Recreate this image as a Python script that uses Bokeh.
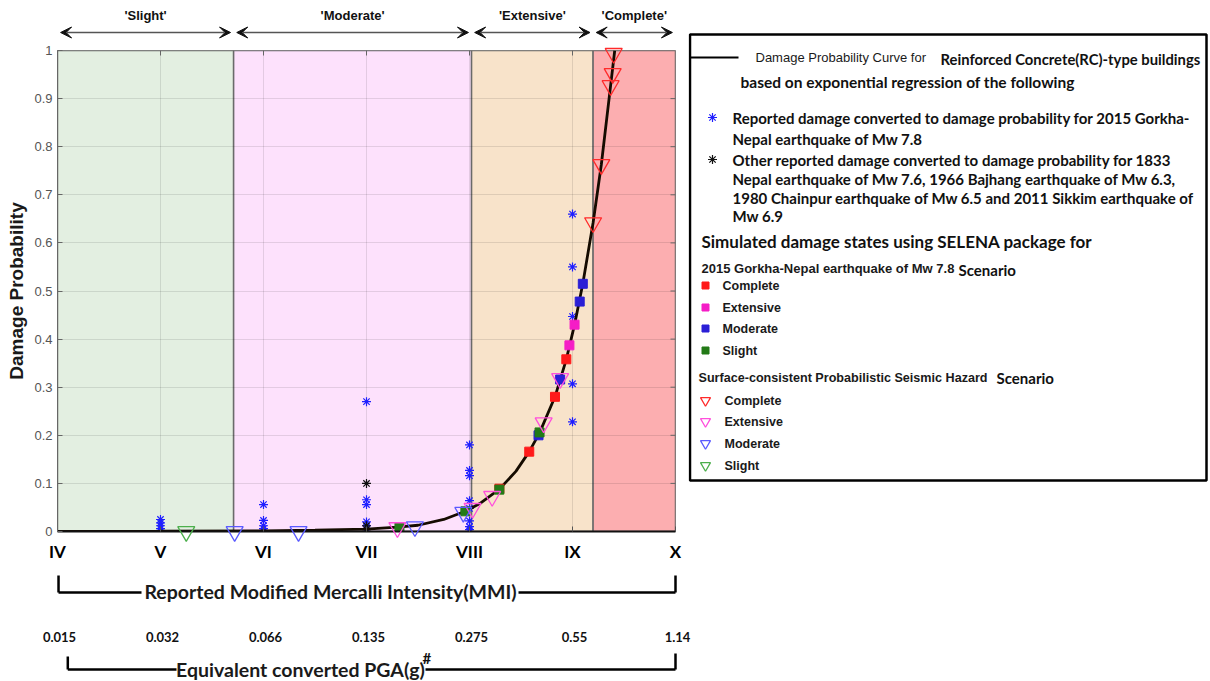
from bokeh.plotting import figure
from bokeh.layouts import row, column
from bokeh.models import Range1d, FixedTicker, Arrow, VeeHead, ColumnDataSource
from bokeh.core.properties import value
from bokeh.embed import file_html
from bokeh.resources import INLINE

# ---------------------------------------------------------------- data
# damage-state bands along the intensity axis
band_names = ["Slight", "Moderate", "Extensive", "Complete"]
band_start = [4.0, 5.71, 8.02, 9.20]
band_end = [5.71, 8.02, 9.20, 10.0]
band_colors = ["#e3efe1", "#fde1fc", "#f8e3ca", "#fcaeb0"]

# intensity axis and the equivalent PGA values
mmi_ticks = [4, 5, 6, 7, 8, 9, 10]
mmi_labels = ["IV", "V", "VI", "VII", "VIII", "IX", "X"]
pga_labels = ["0.015", "0.032", "0.066", "0.135", "0.275", "0.55", "1.14"]
prob_ticks = [0, 0.1, 0.2, 0.3, 0.4, 0.5, 0.6, 0.7, 0.8, 0.9, 1]

# exponential-regression damage probability curve (RC buildings)
curve_mmi = [4.0, 5.0, 6.0, 6.5, 7.0, 7.3, 7.5, 7.75, 7.96, 8.1, 8.29, 8.45,
             8.58, 8.68, 8.83, 8.94, 9.02, 9.10, 9.20, 9.28, 9.37, 9.41]
curve_prob = [0.0, 0.0005, 0.0015, 0.003, 0.005, 0.009, 0.013, 0.025, 0.042, 0.058, 0.088, 0.125,
              0.166, 0.205, 0.28, 0.358, 0.43, 0.515, 0.642, 0.763, 0.927, 1.0]

# reported damage, 2015 Gorkha-Nepal earthquake
gorkha_mmi = [5, 5, 5, 5, 5,
              6, 6, 6, 6, 6,
              7, 7, 7, 7, 7, 7, 7,
              8, 8, 8, 8, 8, 8, 8, 8, 8,
              9, 9, 9, 9, 9]
gorkha_prob = [0.025, 0.018, 0.012, 0.006, 0.0,
               0.056, 0.023, 0.012, 0.006, 0.0,
               0.27, 0.066, 0.056, 0.02, 0.012, 0.006, 0.0,
               0.18, 0.127, 0.116, 0.064, 0.048, 0.022, 0.01, 0.004, 0.0,
               0.66, 0.55, 0.447, 0.307, 0.228]

# other reported damage (1833, 1966, 1980, 2011 events)
other_mmi = [7, 7, 7]
other_prob = [0.1, 0.012, 0.004]

# SELENA simulated damage states, 2015 Gorkha scenario
selena_complete_mmi = [8.94, 8.83, 8.58, 8.29]
selena_complete_prob = [0.358, 0.28, 0.166, 0.089]
selena_extensive_mmi = [9.02, 8.97]
selena_extensive_prob = [0.43, 0.387]
selena_moderate_mmi = [9.10, 9.07, 8.88, 8.67]
selena_moderate_prob = [0.515, 0.478, 0.316, 0.200]
selena_slight_mmi = [8.68, 8.29, 7.96, 7.32]
selena_slight_prob = [0.206, 0.087, 0.042, 0.009]

# surface-consistent probabilistic seismic hazard scenario
psha_complete_mmi = [9.40, 9.39, 9.37, 9.28, 9.20]
psha_complete_prob = [0.994, 0.952, 0.927, 0.763, 0.642]
psha_extensive_mmi = [8.88, 8.72, 8.22, 8.03, 7.30]
psha_extensive_prob = [0.318, 0.226, 0.073, 0.048, 0.008]
psha_moderate_mmi = [7.47, 7.94, 5.72, 6.34]
psha_moderate_prob = [0.01, 0.040, 0.0, 0.0]
psha_slight_mmi = [5.25]
psha_slight_prob = [0.0]

# ---------------------------------------------------------------- layout constants
W, H = 1210, 681
LEFT_W = 688
RIGHT_W = W - LEFT_W
FL, FR = 57, 675                 # plot frame, horizontal page pixels
TOP_H, MID_H = 42, 533           # strip above the plot / main plot height
FT_PAD, FRAME_H = 8, 481
X0, X1 = 4.0, 10.0
MMI_PER_PX = (X1 - X0) / (FR - FL)


def mmi_at(px):
    return X0 + (px - FL) * MMI_PER_PX


def add_text(fig, x, y, s, font="Lato", size="14px", bold=True, color="#111111", align="left"):
    fig.text(x=[x], y=[y], text=[s], text_font=value(font), text_font_size=size,
             text_font_style="bold" if bold else "normal", text_color=color,
             text_align=align, text_baseline="middle")


def strip(width, y_top, y_bottom):
    f = figure(width=width, height=y_bottom - y_top, x_range=Range1d(mmi_at(0), mmi_at(width)),
               y_range=Range1d(y_bottom, y_top), output_backend="svg", toolbar_location=None,
               min_border=0, x_axis_type=None, y_axis_type=None, frame_align=False)
    f.outline_line_color = None
    f.grid.visible = False
    return f


# ---------------------------------------------------------------- strip above: damage-state ranges
top = strip(LEFT_W, 0, TOP_H)
inset = 0.03
for name, s, e in zip(band_names, band_start, band_end):
    top.add_layout(Arrow(x_start=s + inset, x_end=e - inset, y_start=32, y_end=32,
                         start=VeeHead(size=11, fill_color="#111111", line_color="#111111"),
                         end=VeeHead(size=11, fill_color="#111111", line_color="#111111"),
                         line_color="#555555", line_width=1.6))
    add_text(top, (s + e) / 2, 15, "'" + name + "'", font="Liberation Sans", size="13px",
             align="center")

# ---------------------------------------------------------------- main plot
p = figure(width=LEFT_W, height=MID_H, x_range=Range1d(X0, X1), y_range=Range1d(0, 1),
           output_backend="svg", toolbar_location=None, frame_align=False,
           min_border_left=FL, min_border_right=LEFT_W - FR,
           min_border_top=FT_PAD, min_border_bottom=MID_H - FT_PAD - FRAME_H)
p.outline_line_color = "#7a7a7a"
p.outline_line_width = 1

bands = ColumnDataSource(dict(start=band_start, end=band_end, color=band_colors))
band_r = p.quad(left="start", right="end", bottom=0, top=1, source=bands,
                fill_color="color", line_color="#6a6a6a", line_width=1.5)
band_r.level = "image"

p.xgrid.ticker = FixedTicker(ticks=mmi_ticks)
p.ygrid.ticker = FixedTicker(ticks=prob_ticks)
p.grid.grid_line_color = "#000000"
p.grid.grid_line_alpha = 0.1

xa = p.xaxis[0]
xa.ticker = FixedTicker(ticks=mmi_ticks)
xa.major_label_overrides = {t: s for t, s in zip(mmi_ticks, mmi_labels)}
xa.major_label_text_font = "Lato"
xa.major_label_text_font_style = "bold"
xa.major_label_text_font_size = "17px"
xa.major_label_text_color = "#000000"
xa.major_label_standoff = 9
xa.major_tick_in = 5
xa.major_tick_out = 0
xa.minor_tick_line_color = None
xa.axis_line_color = "#111111"
xa.axis_line_width = 2
xa.major_tick_line_color = "#555555"

ya = p.yaxis[0]
ya.ticker = FixedTicker(ticks=prob_ticks)
ya.major_label_overrides = {0: "0", 1: "1"}
ya.major_label_text_font = "Liberation Sans"
ya.major_label_text_font_size = "13px"
ya.major_label_text_color = "#555555"
ya.major_label_standoff = 5
ya.major_tick_in = 5
ya.major_tick_out = 0
ya.minor_tick_line_color = None
ya.axis_line_color = "#666666"
ya.major_tick_line_color = "#666666"
ya.axis_label = "Damage Probability"
ya.axis_label_text_font = "Liberation Sans"
ya.axis_label_text_font_style = "bold"
ya.axis_label_text_font_size = "19px"
ya.axis_label_text_color = "#1a1a1a"
ya.axis_label_standoff = 4

# tick marks along the top and right edges of the box
inner_mmi = mmi_ticks[1:-1]
inner_prob = prob_ticks[1:-1]
tick_len_y = 5 / FRAME_H
tick_len_x = 5 * MMI_PER_PX
p.segment(x0=inner_mmi, y0=[1] * len(inner_mmi), x1=inner_mmi,
          y1=[1 - tick_len_y] * len(inner_mmi), line_color="#666666", line_width=1)
p.segment(x0=[X1] * len(inner_prob), y0=inner_prob, x1=[X1 - tick_len_x] * len(inner_prob),
          y1=inner_prob, line_color="#666666", line_width=1)

# reported damage
p.scatter(gorkha_mmi, gorkha_prob, marker="asterisk", size=9, line_color="#1f1fff", line_width=1.2)
p.scatter(other_mmi, other_prob, marker="asterisk", size=9, line_color="#111111", line_width=1.2)

# regression curve
p.line(curve_mmi, curve_prob, line_color="#150b00", line_width=2.8)

# SELENA damage states
sq = dict(marker="square", size=9)
p.scatter(selena_complete_mmi, selena_complete_prob, fill_color="#ff1a1a", line_color="#ff1a1a", **sq)
p.scatter(selena_extensive_mmi, selena_extensive_prob, fill_color="#f51dc6", line_color="#f51dc6", **sq)
p.scatter(selena_moderate_mmi, selena_moderate_prob, fill_color="#2b1fd6", line_color="#2b1fd6", **sq)
p.scatter(selena_slight_mmi, selena_slight_prob, fill_color="#237a17", line_color="#237a17", **sq)

# PSHA damage states (drawn unclipped so markers on the box edges stay whole)
tri = dict(marker="inverted_triangle", size=17, fill_color=None, line_width=1.3, level="annotation")
p.scatter(psha_complete_mmi, psha_complete_prob, line_color="#ff2a2a", **tri)
p.scatter(psha_extensive_mmi, psha_extensive_prob, line_color="#ff4fdc", **tri)
p.scatter(psha_moderate_mmi, psha_moderate_prob, line_color="#5a5aff", **tri)
p.scatter(psha_slight_mmi, psha_slight_prob, line_color="#4caf4c", **tri)

# ---------------------------------------------------------------- strip below: MMI / PGA brackets
bot = strip(W, TOP_H + MID_H, H)
x_lo, x_hi = mmi_ticks[0], mmi_ticks[-1]
bk = dict(line_color="#000000", line_width=2.5)

bot.segment(x0=[x_lo + 0.01, x_lo + 0.01, mmi_at(518), x_hi],
            y0=[571, 592, 592, 571],
            x1=[x_lo + 0.01, mmi_at(141), x_hi, x_hi],
            y1=[592, 592, 592, 592], **bk)
add_text(bot, mmi_at(330), 591, "Reported Modified Mercalli Intensity(MMI)",
         size="19.5px", align="center", color="#1a1a1a")

for t, s in zip(mmi_ticks, pga_labels):
    add_text(bot, t + 2 * MMI_PER_PX, 636, s, size="13px", align="center")

bot.segment(x0=[x_lo + 0.1, x_lo + 0.1, mmi_at(425), x_hi],
            y0=[656, 669, 669, 653],
            x1=[x_lo + 0.1, mmi_at(176), x_hi, x_hi],
            y1=[669, 669, 669, 669], **bk)
add_text(bot, mmi_at(300), 669, "Equivalent converted PGA(g)", size="19.5px",
         align="center", color="#1a1a1a")
add_text(bot, mmi_at(422), 657, "#", size="15px")

# ---------------------------------------------------------------- legend panel
LEG_H = TOP_H + MID_H
q = figure(width=RIGHT_W, height=LEG_H, x_range=Range1d(LEFT_W, W),
           y_range=Range1d(LEG_H, 0), output_backend="svg", toolbar_location=None,
           min_border=0, x_axis_type=None, y_axis_type=None, frame_align=False)
q.outline_line_color = None
q.grid.visible = False

q.quad(left=689.5, right=1206, top=34, bottom=480, fill_color="white",
       line_color="#000000", line_width=2.5)

q.line([690, 738], [57, 57], line_color="#000000", line_width=2)
add_text(q, 755, 57, "Damage Probability Curve for", font="Liberation Sans", size="13px",
         bold=False, color="#1a1a1a")
add_text(q, 940, 58, "Reinforced Concrete(RC)-type buildings", size="14.8px")
add_text(q, 740, 81, "based on  exponential regression of the following", size="15.5px")

q.scatter([712], [117], marker="asterisk", size=9, line_color="#1f1fff", line_width=1.2)
add_text(q, 732, 117, "Reported damage converted to damage probability for 2015 Gorkha-", size="15px")
add_text(q, 732, 138, "Nepal earthquake of Mw 7.8", size="15px")

q.scatter([712], [159], marker="asterisk", size=9, line_color="#111111", line_width=1.2)
add_text(q, 732, 159, "Other reported damage converted to damage probability for 1833", size="15px")
add_text(q, 732, 178, "Nepal earthquake of Mw 7.6, 1966 Bajhang earthquake of Mw 6.3,", size="15px")
add_text(q, 732, 197, "1980 Chainpur earthquake of Mw 6.5 and 2011 Sikkim earthquake of", size="15px")
add_text(q, 732, 215, "Mw 6.9", size="15px")

add_text(q, 701, 241, "Simulated damage states using SELENA package for", size="17px")
add_text(q, 701, 268, "2015 Gorkha-Nepal earthquake of Mw 7.8", font="Liberation Sans", size="13px",
         color="#1a1a1a")
add_text(q, 958, 269, "Scenario", size="15px")

sq_colors = ["#ff1a1a", "#f51dc6", "#2b1fd6", "#237a17"]
tri_colors = ["#ff2a2a", "#ff4fdc", "#5a5aff", "#4caf4c"]
state_labels = ["Complete", "Extensive", "Moderate", "Slight"]
for c, lab, y in zip(sq_colors, state_labels, [285, 307, 328, 350]):
    q.scatter([705], [y], marker="square", size=7, fill_color=c, line_color=c)
    add_text(q, 722, y, lab, font="Liberation Sans", size="12.5px", color="#1a1a1a")

add_text(q, 698, 377, "Surface-consistent Probabilistic Seismic Hazard", font="Liberation Sans",
         size="12.6px", color="#1a1a1a")
add_text(q, 996, 377, "Scenario", size="15px")
for c, lab, y in zip(tri_colors, state_labels, [400, 421, 443, 465]):
    q.scatter([705], [y], marker="inverted_triangle", size=10, fill_color=None,
              line_color=c, line_width=1.3)
    add_text(q, 724, y, lab, font="Liberation Sans", size="12.5px", color="#1a1a1a")

layout = column(row(column(top, p, spacing=0), q, spacing=0), bot, spacing=0)
open("out.html", "w").write(file_html(layout, INLINE))
